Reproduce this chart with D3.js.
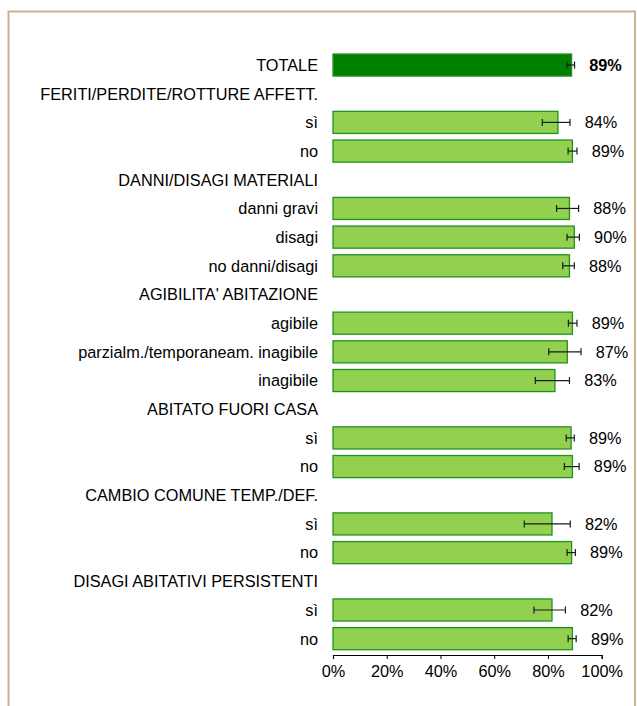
<!DOCTYPE html>
<html>
<head>
<meta charset="utf-8">
<script src="https://cdn.jsdelivr.net/npm/d3@7"></script>
<style>
  html, body { margin: 0; padding: 0; background: #fff; }
  svg { display: block; }
  text { font-family: "Liberation Sans", Arial, sans-serif; fill: #000; }
</style>
</head>
<body>
<svg id="chart" width="637" height="706"></svg>
<script>
// ---- data (percent) ----
const categories = [
  "TOTALE",
  "FERITI/PERDITE/ROTTURE AFFETT.", "sì", "no",
  "DANNI/DISAGI MATERIALI", "danni gravi", "disagi", "no danni/disagi",
  "AGIBILITA' ABITAZIONE", "agibile", "parzialm./temporaneam. inagibile", "inagibile",
  "ABITATO FUORI CASA", "sì", "no",
  "CAMBIO COMUNE TEMP./DEF.", "sì", "no",
  "DISAGI ABITATIVI PERSISTENTI", "sì", "no"
];
const values = [88.8, null, 83.7, 89.1, null, 88.0, 89.8, 88.0, null, 89.1, 87.2, 82.6, null, 88.6, 89.1, null, 81.5, 88.8, null, 81.5, 89.1];
const errLow  = [87.1, null, 77.9, 87.5, null, 83.2, 87.1, 85.5, null, 87.6, 80.3, 75.3, null, 86.8, 86.1, null, 71.2, 87.1, null, 74.8, 87.5];
const errHigh = [89.9, null, 88.2, 90.8, null, 91.4, 91.7, 89.8, null, 90.8, 92.3, 88.0, null, 89.8, 91.6, null, 88.3, 90.2, null, 86.5, 90.5];
const valueLabels = ["89%", "", "84%", "89%", "", "88%", "90%", "88%", "", "89%", "87%", "83%", "", "89%", "89%", "", "82%", "89%", "", "82%", "89%"];
const xTicks = [0, 20, 40, 60, 80, 100];

// ---- layout ----
const svg = d3.select("#chart");
const FONT = 16.3;

// frame
svg.append("rect")
  .attr("x", 8.5).attr("y", 11.5)
  .attr("width", 626.5).attr("height", 720)
  .attr("fill", "none")
  .attr("stroke", "#CFB08D")
  .attr("stroke-width", 2);

const x = d3.scaleLinear().domain([0, 100]).range([333, 601.7]);
const idx = d3.range(categories.length);
const y = d3.scaleBand().domain(idx).range([50.7, 653]).paddingInner(0.23).paddingOuter(0.115);

const g = svg.append("g");

// bars
g.selectAll("rect.bar")
  .data(idx.filter(i => values[i] != null))
  .join("rect")
  .attr("class", "bar")
  .attr("x", x(0))
  .attr("y", i => y(i))
  .attr("width", i => x(values[i]) - x(0))
  .attr("height", y.bandwidth())
  .attr("fill", i => i === 0 ? "#008000" : "#92D050")
  .attr("stroke", i => i === 0 ? "#2E8B2E" : "#229122")
  .attr("stroke-width", 1.3);

// error bars
const eb = g.selectAll("g.err")
  .data(idx.filter(i => values[i] != null))
  .join("g")
  .attr("class", "err")
  .attr("stroke", "#1a1a1a")
  .attr("stroke-width", 1.2);
eb.append("line")
  .attr("x1", i => x(errLow[i])).attr("x2", i => x(errHigh[i]))
  .attr("y1", i => y(i) + y.bandwidth() / 2).attr("y2", i => y(i) + y.bandwidth() / 2);
eb.append("line")
  .attr("x1", i => x(errLow[i])).attr("x2", i => x(errLow[i]))
  .attr("y1", i => y(i) + y.bandwidth() / 2 - 3.5).attr("y2", i => y(i) + y.bandwidth() / 2 + 3.5);
eb.append("line")
  .attr("x1", i => x(errHigh[i])).attr("x2", i => x(errHigh[i]))
  .attr("y1", i => y(i) + y.bandwidth() / 2 - 3.5).attr("y2", i => y(i) + y.bandwidth() / 2 + 3.5);

// value labels
g.selectAll("text.val")
  .data(idx.filter(i => values[i] != null))
  .join("text")
  .attr("class", "val")
  .attr("x", i => x(errHigh[i]) + 31)
  .attr("y", i => y(i) + y.bandwidth() / 2)
  .attr("dy", "0.36em")
  .attr("text-anchor", "middle")
  .attr("font-size", FONT)
  .attr("font-weight", i => i === 0 ? "bold" : "normal")
  .text(i => valueLabels[i]);

// category labels
g.selectAll("text.cat")
  .data(idx)
  .join("text")
  .attr("class", "cat")
  .attr("x", 318)
  .attr("y", i => y(i) + y.bandwidth() / 2)
  .attr("dy", "0.36em")
  .attr("text-anchor", "end")
  .attr("font-size", FONT)
  .text(i => categories[i]);

// x axis
const axis = d3.axisBottom(x)
  .tickValues(xTicks)
  .tickFormat(d => d + "%")
  .tickSize(4)
  .tickPadding(6);
const ax = svg.append("g")
  .attr("transform", "translate(0,655)")
  .call(axis);
ax.select(".domain").attr("stroke", "#000").attr("stroke-width", 1.2);
ax.selectAll(".tick line").attr("stroke", "#000").attr("stroke-width", 1);
ax.selectAll(".tick text")
  .attr("font-size", FONT)
  .attr("font-family", "Liberation Sans, Arial, sans-serif")
  .attr("fill", "#000");
</script>
</body>
</html>
